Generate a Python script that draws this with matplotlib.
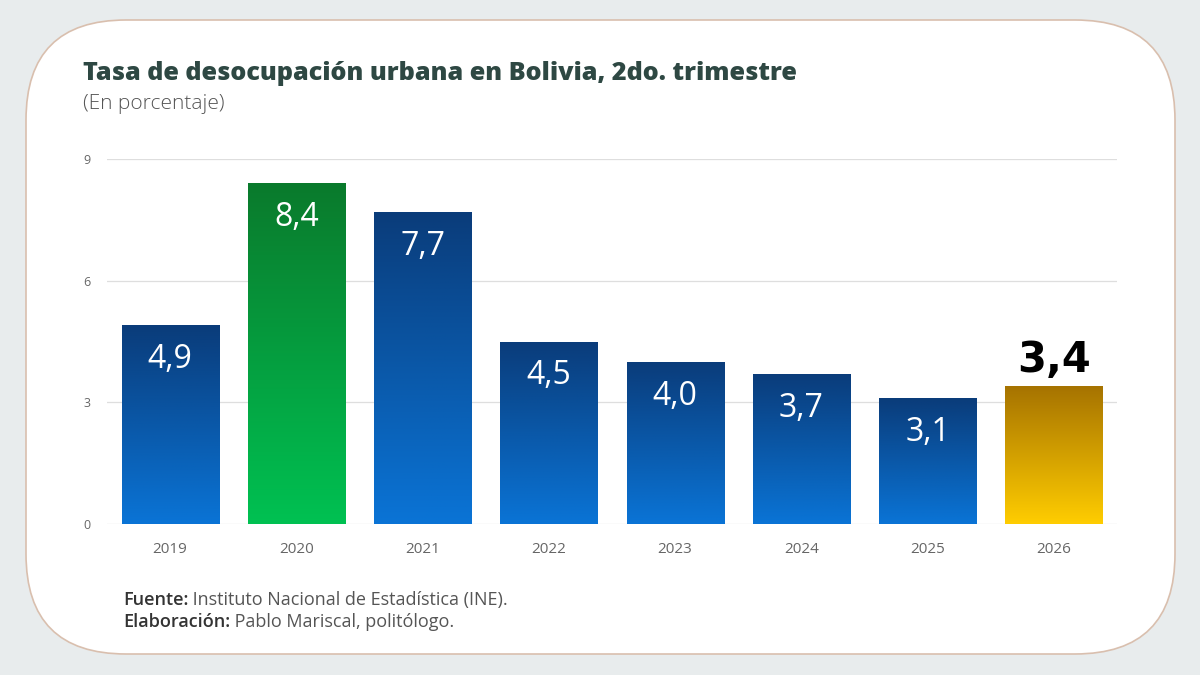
import numpy as np
import matplotlib
matplotlib.use("Agg")
import matplotlib.pyplot as plt
from matplotlib.colors import LinearSegmentedColormap
from matplotlib.patches import FancyBboxPatch

# data
years = ["2019", "2020", "2021", "2022", "2023", "2024", "2025", "2026"]
rates = [4.9, 8.4, 7.7, 4.5, 4.0, 3.7, 3.1, 3.4]
labels = ["4,9", "8,4", "7,7", "4,5", "4,0", "3,7", "3,1", "3,4"]
yticks = [0, 3, 6, 9]

blue = ("#0a3c7a", "#0a74d6")
green = ("#0a7a2c", "#00c152")
gold = ("#a67300", "#ffcd00")
bar_grads = [blue, green, blue, blue, blue, blue, blue, gold]

fig = plt.figure(figsize=(12, 6.75), dpi=100)
fig.patch.set_facecolor("#e8eced")

# background card in pixel coordinates
bg = fig.add_axes([0, 0, 1, 1])
bg.set_xlim(0, 1200)
bg.set_ylim(675, 0)
bg.axis("off")
card = FancyBboxPatch((26, 20), 1149, 634, boxstyle="round,pad=0,rounding_size=100",
                      facecolor="white", edgecolor="#d9bfae", linewidth=1.2)
bg.add_patch(card)

ax = fig.add_axes([107 / 1200, (675 - 524) / 675, (1117 - 107) / 1200, (524 - 159) / 675])
ax.set_facecolor("none")

x = np.arange(len(years))
width = 0.77
bars = ax.bar(x, rates, width=width, color="none", zorder=2)

grad = np.linspace(1, 0, 256).reshape(-1, 1)
for b, (top, bottom) in zip(bars, bar_grads):
    cmap = LinearSegmentedColormap.from_list("g", [bottom, top])
    x0 = b.get_x()
    h = b.get_height()
    im = ax.imshow(grad, extent=[x0, x0 + b.get_width(), 0, h], cmap=cmap,
                   aspect="auto", origin="upper", zorder=2, vmin=0, vmax=1)
    im.set_clip_path(b)

# value labels
for i, (v, lab) in enumerate(zip(rates, labels)):
    if i == len(rates) - 1:
        ax.text(x[i], v + 0.12, lab, ha="center", va="bottom", color="black",
                fontsize=30, fontweight="bold", family="DejaVu Sans", zorder=3)
    else:
        ax.text(x[i], v - 0.85, lab, ha="center", va="center", color="white",
                fontsize=23, family="Open Sans", zorder=3)

ax.set_xlim(-0.5, 7.5)
ax.set_ylim(0, 9)
ax.set_yticks(yticks)
ax.set_yticklabels([str(t) for t in yticks])
ax.set_xticks(x)
ax.set_xticklabels(years)
ax.tick_params(axis="both", length=0, colors="#666666")
ax.tick_params(axis="x", labelsize=11, pad=13)
ax.tick_params(axis="y", labelsize=9, pad=12)
for lbl in ax.get_xticklabels() + ax.get_yticklabels():
    lbl.set_family("Open Sans")
for s in ax.spines.values():
    s.set_visible(False)
ax.yaxis.grid(True, color="#dedede", linewidth=0.9, zorder=0)
ax.set_axisbelow(True)

# titles
bg.text(83, 74, "Tasa de desocupación urbana en Bolivia, 2do. trimestre",
        fontsize=18.2, fontweight="extra bold", family="Open Sans", color="#2e4843", va="center")
bg.text(83, 104, "(En porcentaje)", fontsize=15, family="Open Sans", color="#555555",
        va="center", fontweight="light")

# footer
t1 = bg.text(123, 600, "Fuente:", fontsize=13, family="Open Sans", fontweight="semibold",
             color="#333333", va="center")
bg.annotate(" Instituto Nacional de Estadística (INE).", xycoords=t1, xy=(1, 0.5),
            va="center", fontsize=13, family="Open Sans", color="#555555")
t2 = bg.text(123, 622, "Elaboración:", fontsize=13, family="Open Sans", fontweight="semibold",
             color="#333333", va="center")
bg.annotate(" Pablo Mariscal, politólogo.", xycoords=t2, xy=(1, 0.5),
            va="center", fontsize=13, family="Open Sans", color="#555555")

fig.savefig("out.png", dpi=100, facecolor=fig.get_facecolor())
